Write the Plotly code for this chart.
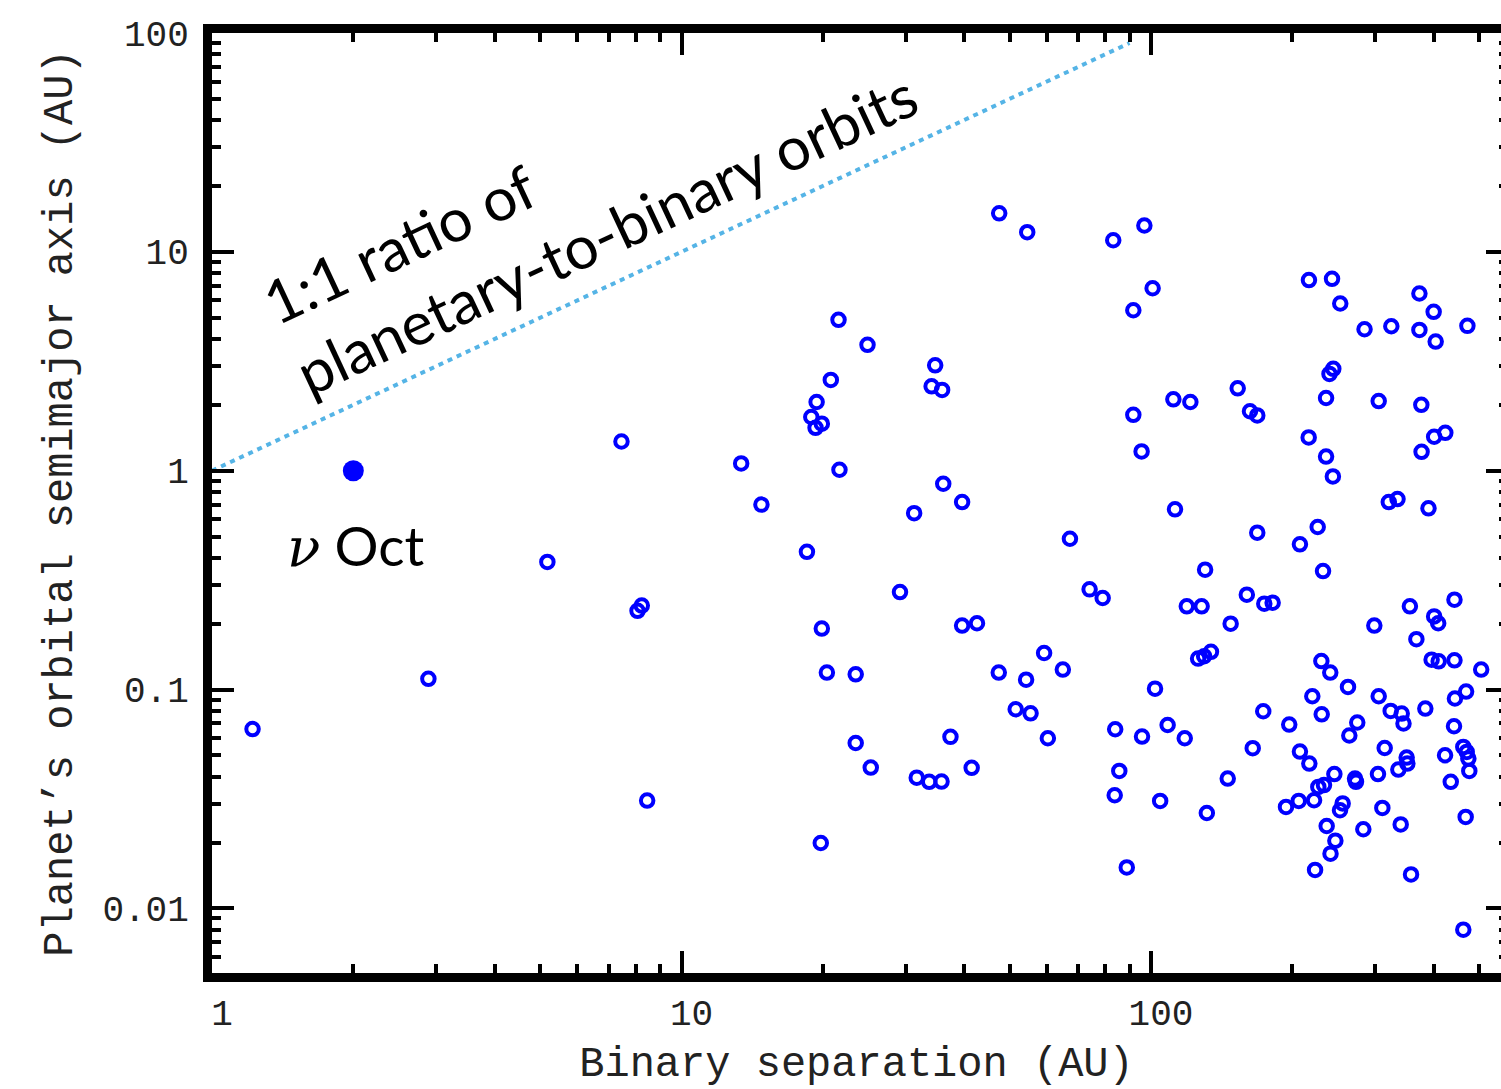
import plotly.graph_objects as go

# Binary separation (AU) and planet semimajor axis (AU) for the open-circle sample
separation = [
    1.22, 2.89, 5.18, 7.45, 8.06, 8.23, 8.45, 13.4, 14.8, 18.5,
    21.6, 24.9, 20.8, 34.7, 34.1, 35.9, 19.4, 18.9, 19.9, 19.3,
    21.7, 36.1, 39.6, 31.3, 67.2, 91.7, 95.5, 47.5, 54.5, 83.1,
    96.8, 100.8, 91.7, 217, 243, 253, 285, 325, 373, 400,
    373, 404, 472, 244.5, 240, 153, 111.6, 121.3, 162.5, 168.4,
    236, 305.5, 376.5, 216.7, 236, 244, 401, 423.5, 377, 112.5,
    168.4, 207.6, 226.5, 321, 335, 390, 74.0, 78.9, 119.2, 128.2,
    130.4, 160, 174.3, 181.6, 147.8, 232.5, 356, 443, 299, 401,
    409, 367.5, 29.2, 19.9, 20.4, 23.5, 39.6, 42.6, 59.2, 64.9,
    47.4, 54.2, 51.5, 55.4, 60.3, 102, 83.9, 95.7, 108.5, 118,
    85.6, 83.7, 104.6, 131.5, 23.5, 25.3, 31.7, 33.7, 35.8, 37.4,
    41.5, 19.8, 88.8, 126, 129.8, 134.2, 230.6, 240.9, 262.8, 220.6,
    305.5, 396, 410, 443, 505, 469, 444, 173.4, 231, 324,
    342, 345, 384, 197, 275, 264.5, 442, 164.7, 207.6, 217.4,
    314.6, 462.6, 470.4, 474.2, 476.4, 423, 435, 350.4, 351.6, 336.4,
    304.4, 245.8, 272, 273.3, 145.7, 227.2, 233.6, 193.9, 206.4, 222.5,
    256, 252.7, 311, 468, 236.7, 283.3, 340.3, 247, 241.2, 223.6,
    358, 462.6,
]
semimajor = [
    0.066, 0.112, 0.383, 1.36, 0.229, 0.242, 0.0311, 1.08, 0.70, 0.426,
    4.89, 3.76, 2.60, 3.03, 2.43, 2.34, 2.06, 1.76, 1.64, 1.57,
    1.01, 0.872, 0.719, 0.640, 0.489, 1.80, 1.225, 15.0, 12.3, 11.3,
    13.2, 6.82, 5.41, 7.43, 7.53, 5.81, 4.43, 4.57, 6.45, 5.32,
    4.40, 3.89, 4.59, 2.92, 2.77, 2.38, 2.12, 2.06, 1.87, 1.79,
    2.15, 2.08, 2.00, 1.42, 1.16, 0.942, 1.43, 1.49, 1.22, 0.666,
    0.521, 0.461, 0.553, 0.719, 0.742, 0.673, 0.287, 0.262, 0.240, 0.240,
    0.353, 0.2715, 0.247, 0.2496, 0.200, 0.348, 0.240, 0.2576, 0.196, 0.216,
    0.201, 0.170, 0.279, 0.190, 0.1196, 0.1174, 0.196, 0.201, 0.147, 0.1234,
    0.1196, 0.111, 0.0813, 0.0779, 0.0599, 0.101, 0.0659, 0.061, 0.0689, 0.0599,
    0.0425, 0.0329, 0.031, 0.0273, 0.057, 0.044, 0.0396, 0.0379, 0.038, 0.0608,
    0.0439, 0.0199, 0.0154, 0.1385, 0.142, 0.1488, 0.135, 0.1196, 0.1028, 0.0932,
    0.0932, 0.137, 0.1346, 0.136, 0.1234, 0.0979, 0.091, 0.0796, 0.0771, 0.0799,
    0.0777, 0.070, 0.0819, 0.0692, 0.0707, 0.0617, 0.068, 0.054, 0.0521, 0.0459,
    0.0541, 0.0547, 0.0519, 0.0484, 0.0425, 0.0501, 0.0379, 0.0489, 0.0459, 0.0431,
    0.0411, 0.0411, 0.0392, 0.0379, 0.0392, 0.0359, 0.0366, 0.0291, 0.031, 0.0312,
    0.0302, 0.0281, 0.0288, 0.0262, 0.0238, 0.023, 0.0242, 0.0204, 0.0178, 0.0150,
    0.0143, 0.0080,
]

# nu Octantis
nuoct_sep = [2.0]
nuoct_a = [1.0]

# 1:1 ratio line
ratio_x = [1, 90]
ratio_y = [1, 90]

x_major = [1, 10, 100]
x_major_text = ["1", "10", "100"]
x_minor = [m * d for d in (1, 10, 100) for m in range(2, 10) if m * d < 560]
y_major = [0.01, 0.1, 1, 10, 100]
y_major_text = ["0.01", "0.1", "1", "10", "100"]
y_minor = [m * d for d in (0.001, 0.01, 0.1, 1, 10) for m in range(2, 10) if m * d > 0.005]

X_RANGE = [0, 2.7455]
Y_RANGE = [-2.295, 2.0]

MONO = "Liberation Mono"

fig = go.Figure()

fig.add_trace(go.Scatter(
    x=ratio_x, y=ratio_y, mode="lines",
    line=dict(color="#55B4E6", width=4, dash="5px,5px"),
    hoverinfo="skip", showlegend=False,
))
fig.add_trace(go.Scatter(
    x=separation, y=semimajor, mode="markers",
    marker=dict(symbol="circle-open", size=12.5, color="#0000FF",
                line=dict(width=4, color="#0000FF")),
    showlegend=False,
))
fig.add_trace(go.Scatter(
    x=nuoct_sep, y=nuoct_a, mode="markers",
    marker=dict(symbol="circle", size=21, color="#0000FF", line=dict(width=0)),
    showlegend=False,
))
# invisible trace to activate the right-side tick axis
fig.add_trace(go.Scatter(
    x=nuoct_sep, y=nuoct_a, yaxis="y2", mode="markers",
    marker=dict(opacity=0), hoverinfo="skip", showlegend=False,
))

fig.update_layout(
    width=1501, height=1089,
    margin=dict(l=212, r=0, t=33, b=116),
    paper_bgcolor="white", plot_bgcolor="white",
    hovermode=False,
    xaxis=dict(
        type="log", range=X_RANGE,
        showgrid=False, zeroline=False,
        showline=True, linewidth=9, linecolor="black", mirror="ticks",
        ticks="inside", ticklen=22, tickwidth=4, tickcolor="black",
        tickmode="array", tickvals=x_major, ticktext=x_major_text,
        tickfont=dict(family=MONO, size=36, color="#222"),
        ticklabelshift=10,
        minor=dict(tickmode="array", tickvals=x_minor, ticks="inside",
                   ticklen=9, tickwidth=4, tickcolor="black", showgrid=False),
        title=dict(text="Binary separation (AU)",
                   font=dict(family=MONO, size=42, color="#222"), standoff=18),
    ),
    yaxis=dict(
        type="log", range=Y_RANGE,
        showgrid=False, zeroline=False,
        showline=True, linewidth=9, linecolor="black", mirror=False,
        ticks="inside", ticklen=22, tickwidth=4, tickcolor="black",
        tickmode="array", tickvals=y_major, ticktext=y_major_text,
        tickfont=dict(family=MONO, size=36, color="#222"),
        ticklabelstandoff=7,
        minor=dict(tickmode="array", tickvals=y_minor, ticks="inside",
                   ticklen=9, tickwidth=4, tickcolor="black", showgrid=False),
        title=dict(text="Planet\u2019s orbital semimajor axis (AU)",
                   font=dict(family=MONO, size=42, color="#222"), standoff=20),
    ),
    yaxis2=dict(
        type="log", range=Y_RANGE, overlaying="y", side="right",
        showgrid=False, zeroline=False, showline=False,
        ticks="inside", ticklen=15, tickwidth=4, tickcolor="black",
        tickmode="array", tickvals=y_major, showticklabels=False,
        minor=dict(tickmode="array", tickvals=y_minor, ticks="inside",
                   ticklen=2, tickwidth=4, tickcolor="black", showgrid=False),
    ),
    annotations=[
        dict(
            text="1:1 ratio of<br>planetary-to-binary orbits",
            xref="paper", yref="paper", x=0.293, y=0.824,
            xanchor="center", yanchor="middle", align="left",
            textangle=-25, showarrow=False,
            font=dict(family="Lato", size=60, color="black"),
        ),
        dict(
            text="<span style=\"font-family:'DejaVu Serif';font-style:italic\">\u03bd</span> Oct",
            xref="paper", yref="paper", x=0.1117, y=0.455,
            xanchor="center", yanchor="middle", showarrow=False,
            font=dict(family="Lato", size=55, color="black"),
        ),
    ],
)

fig.write_html("out.html", config={"displayModeBar": False})
